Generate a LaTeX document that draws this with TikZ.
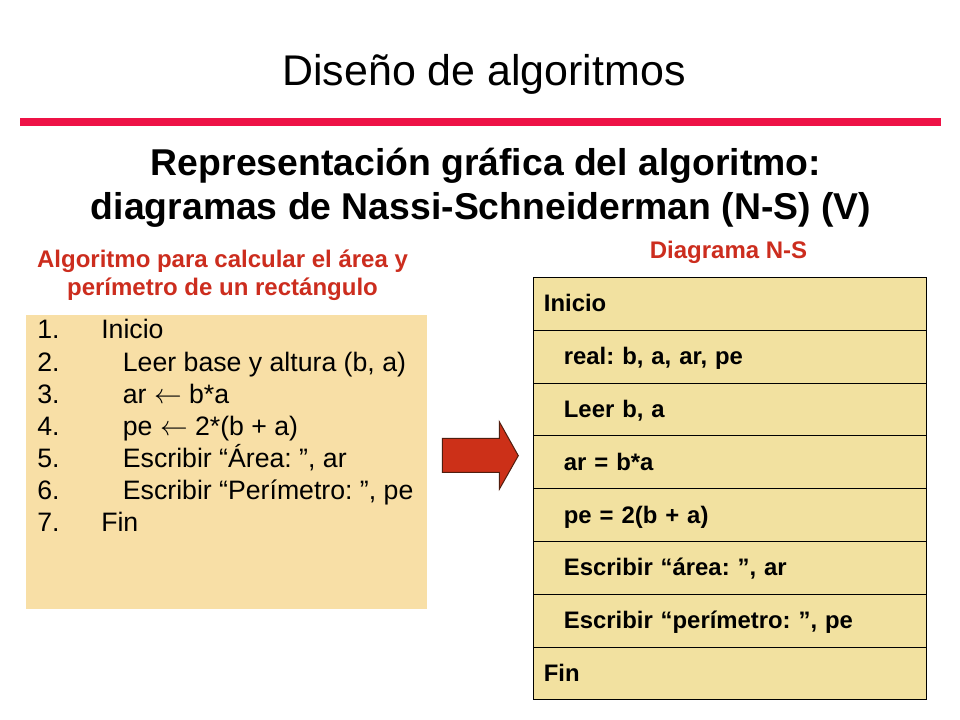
\documentclass[tikz,border=0pt]{standalone}
\usepackage{fontspec}
\setmainfont{Liberation Sans}
\frenchspacing
\definecolor{rulered}{RGB}{238,18,70}
\definecolor{headred}{RGB}{204,45,30}
\definecolor{listfill}{RGB}{248,223,166}
\definecolor{nsfill}{RGB}{242,225,160}
\definecolor{arrowred}{RGB}{204,48,24}
\definecolor{arrowedge}{RGB}{80,30,15}
\begin{document}
\begin{tikzpicture}[x=0.75pt,y=-0.75pt,
  titletext/.style={font=\fontsize{32.2}{38}\selectfont, anchor=base, inner sep=0pt},
  subtitletext/.style={font=\bfseries\fontsize{28}{34}\selectfont, anchor=base, inner sep=0pt},
  headertext/.style={font=\bfseries\fontsize{18}{22}\selectfont, text=headred, anchor=base, inner sep=0pt},
  listline/.style={font=\fontsize{20}{24}\selectfont, anchor=base west, inner sep=0pt},
  listbox/.style={fill=listfill, minimum width=300.5pt, minimum height=220.7pt, inner sep=0pt},
  nsrow/.style={draw=black, line width=0.75pt, fill=nsfill, minimum height=39.6pt,
    text width=279pt, inner xsep=7.9pt, inner ysep=0pt, text height=12pt, text depth=0pt,
    align=left, font=\bfseries\fontsize{17.9}{21}\selectfont},
  blockarrow/.style={fill=arrowred, draw=arrowedge, line width=0.75pt}
]
\useasboundingbox[fill=white] (0,0) rectangle (960,720);

% title and rule
\node[titletext] (title) at (484,86) {Diseño de algoritmos};
\fill[rulered] (20,118) rectangle (941,126.5);

% subtitle
\node[subtitletext] (sub1) at (486,176) {Representación gráfica del algoritmo:};
\node[subtitletext] (sub2) at (481,220) {diagramas de Nassi-Schneiderman (N-S) (V)};

% left header
\node[headertext] (lh1) at (222.5,268) {Algoritmo para calcular el área y};
\node[headertext] (lh2) at (222.5,296) {perímetro de un rectángulo};

% right header
\node[headertext] (rh) at (728.5,259) {Diagrama N-S};

% left list box
\node[listbox] (lbox) at (226.35,462.15) {};
\node[listline] (l1) at (37,339)   {\makebox[48pt][l]{1.}Inicio};
\node[listline] (l2) at (37,371.1) {\makebox[64.25pt][l]{2.}Leer base y altura (b, a)};
\node[listline] (l3) at (37,403.2) {\makebox[64.25pt][l]{3.}ar $\leftarrow$ b*a};
\node[listline] (l4) at (37,435.3) {\makebox[64.25pt][l]{4.}pe $\leftarrow$ 2*(b + a)};
\node[listline] (l5) at (37,467.4) {\makebox[64.25pt][l]{5.}Escribir “Área: ”, ar};
\node[listline] (l6) at (37,499.5) {\makebox[64.25pt][l]{6.}Escribir “Perímetro: ”, pe};
\node[listline] (l7) at (37,531.6) {\makebox[48pt][l]{7.}Fin};

% arrow
\filldraw[blockarrow] (442.3,438.3) -- (499.3,438.3) -- (499.3,421.7) -- (518.3,455.7)
  -- (499.3,489.3) -- (499.3,472.3) -- (442.3,472.3) -- cycle;

% N-S diagram
\node[nsrow] (r1) at (729.9,303.9) {Inicio};
\node[nsrow] (r2) at (729.9,356.7) {\hspace*{15pt}real: b, a, ar, pe};
\node[nsrow] (r3) at (729.9,409.5) {\hspace*{15pt}Leer b, a};
\node[nsrow] (r4) at (729.9,462.3) {\hspace*{15pt}ar = b*a};
\node[nsrow] (r5) at (729.9,515.1) {\hspace*{15pt}pe = 2(b + a)};
\node[nsrow] (r6) at (729.9,567.9) {\hspace*{15pt}Escribir “área: ”, ar};
\node[nsrow] (r7) at (729.9,620.7) {\hspace*{15pt}Escribir “perímetro: ”, pe};
\node[nsrow] (r8) at (729.9,673.5) {Fin};
\end{tikzpicture}
\end{document}
